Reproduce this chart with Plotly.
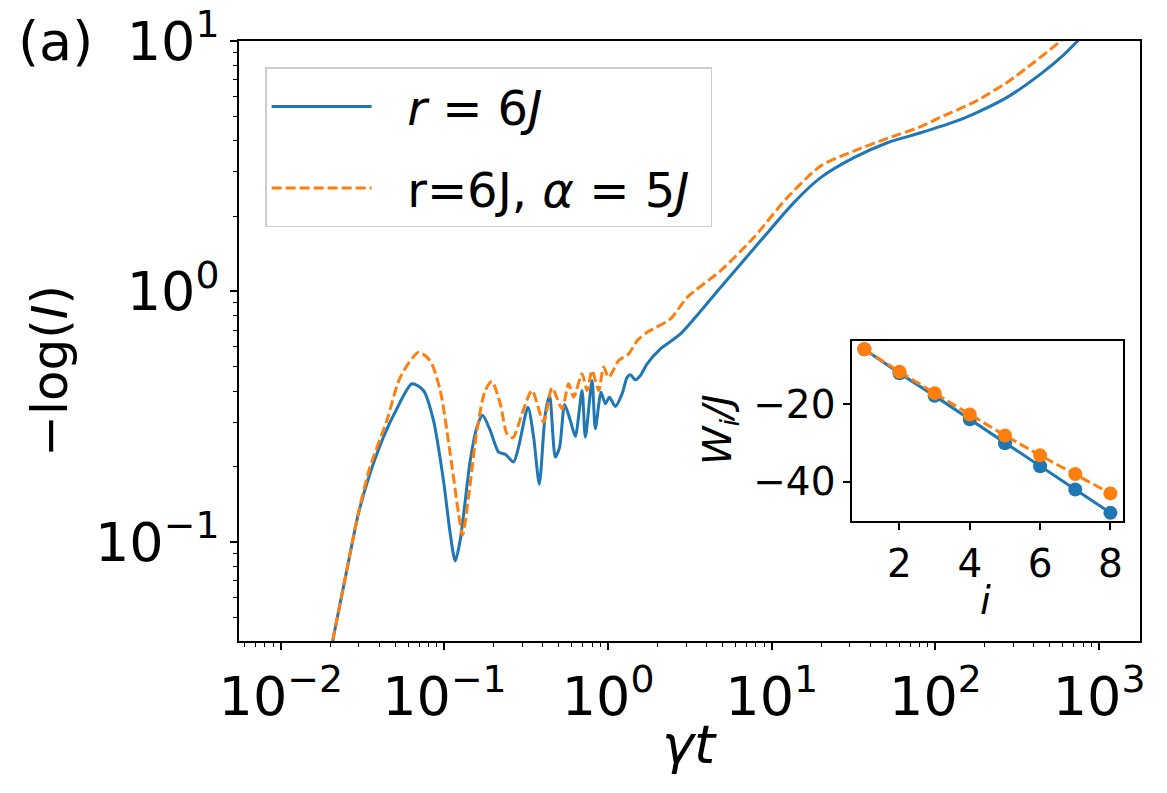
import plotly.graph_objects as go

# ---- main panel data: gamma*t and -log(I) ----
t_blue = [0.020, 0.02655, 0.02985, 0.0351, 0.0424, 0.0512, 0.0633, 0.0745, 0.0858, 0.0987,
          0.1085, 0.1164, 0.1249, 0.1439, 0.158, 0.171, 0.1905, 0.2142, 0.2355, 0.2646,
          0.2838, 0.324, 0.3508, 0.380, 0.4135, 0.4395, 0.476, 0.5058, 0.5428, 0.588,
          0.631, 0.6934, 0.7264, 0.798, 0.836, 0.906, 0.9627, 1.019, 1.108, 1.218,
          1.307, 1.369, 1.469, 1.576, 1.732, 2.089, 2.768, 4.863, 8.54, 13.65,
          19.89, 31.77, 50.85, 81.3, 130, 172.2, 275.7, 440.6, 607.5, 794, 1122]
v_blue = [0.0356, 0.0899, 0.1298, 0.1873, 0.262, 0.340, 0.428, 0.402, 0.305, 0.176,
          0.108, 0.0838, 0.1016, 0.2116, 0.287, 0.320, 0.2786, 0.2284, 0.2236, 0.2084,
          0.239, 0.345, 0.262, 0.170, 0.3248, 0.384, 0.218, 0.239, 0.3536, 0.305,
          0.2637, 0.402, 0.262, 0.4407, 0.283, 0.396, 0.356, 0.378, 0.347, 0.390,
          0.454, 0.4645, 0.4436, 0.4615, 0.514, 0.5895, 0.6764, 1.037, 1.592, 2.263,
          2.846, 3.42, 3.924, 4.30, 4.75, 5.12, 5.97, 7.39, 8.81, 10.5, 13.4]

t_orange = [0.020, 0.02655, 0.02985, 0.0351, 0.0445, 0.0537, 0.0694, 0.0818, 0.0943, 0.1085,
            0.122, 0.129, 0.1404, 0.158, 0.1776, 0.1952, 0.2194, 0.2411, 0.2624, 0.2979,
            0.3428, 0.4037, 0.4545, 0.5233, 0.574, 0.616, 0.6934, 0.744, 0.798, 0.876,
            0.940, 1.0085, 1.161, 1.337, 1.504, 1.732, 2.404, 3.042, 4.863, 7.773,
            12.44, 19.89, 31.77, 50.85, 81.3, 107.7, 172.2, 275.7, 401, 570, 800]
v_orange = [0.0356, 0.0899, 0.1310, 0.199, 0.305, 0.454, 0.571, 0.5296, 0.402, 0.225,
            0.1298, 0.1063, 0.151, 0.2786, 0.402, 0.4366, 0.356, 0.2703, 0.2606, 0.3248,
            0.402, 0.3008, 0.412, 0.340, 0.428, 0.378, 0.469, 0.402, 0.483, 0.402,
            0.498, 0.454, 0.5296, 0.563, 0.636, 0.6866, 0.776, 0.9464, 1.209, 1.642,
            2.369, 3.168, 3.636, 4.084, 4.55, 4.966, 5.70, 6.85, 8.23, 9.89, 12.1]

# ---- inset data: W_i / J ----
i_vals = [1, 2, 3, 4, 5, 6, 7, 8]
w_blue = [-5.9, -12.1, -17.9, -23.9, -30.1, -36.0, -42.0, -48.0]
w_orange = [-5.9, -11.7, -17.2, -22.7, -28.1, -33.2, -38.0, -43.0]

x_tickvals = [1e-2, 1e-1, 1e0, 1e1, 1e2, 1e3]
x_ticktext = ["10<sup>\u22122</sup>", "10<sup>\u22121</sup>", "10<sup>0</sup>",
              "10<sup>1</sup>", "10<sup>2</sup>", "10<sup>3</sup>"]
y_tickvals = [1e-1, 1e0, 1e1]
y_ticktext = ["10<sup>\u22121</sup>", "10<sup>0</sup>", "10<sup>1</sup>"]
inset_xticks = [2, 4, 6, 8]
inset_yticks = [-20, -40]
inset_yticktext = ["\u221220", "\u221240"]

BLUE = "#1f77b4"
ORANGE = "#ff7f0e"
FONT = "DejaVu Sans"
LW = 3

def minor_log(lo, hi):
    vals = []
    for e in range(lo, hi + 1):
        for k in range(2, 10):
            vals.append(k * 10 ** e)
    return vals

fig = go.Figure()
fig.add_trace(go.Scatter(x=t_blue, y=v_blue, mode="lines",
                         line=dict(color=BLUE, width=LW, shape="spline", smoothing=0.7),
                         name="&nbsp;&nbsp;<i>r</i> = 6<i>J</i>", legendgroup="a"))
fig.add_trace(go.Scatter(x=t_orange, y=v_orange, mode="lines",
                         line=dict(color=ORANGE, width=LW, dash="10px,4px",
                                   shape="spline", smoothing=0.7),
                         name="&nbsp;&nbsp;r=6J, <i>\u03b1</i> = 5<i>J</i>&nbsp;", legendgroup="b"))

fig.add_trace(go.Scatter(x=i_vals, y=w_blue, mode="lines+markers", xaxis="x2", yaxis="y2",
                         line=dict(color=BLUE, width=LW), marker=dict(color=BLUE, size=14),
                         showlegend=False))
fig.add_trace(go.Scatter(x=i_vals, y=w_orange, mode="lines+markers", xaxis="x2", yaxis="y2",
                         line=dict(color=ORANGE, width=LW, dash="10px,4px"),
                         marker=dict(color=ORANGE, size=14),
                         showlegend=False))

axis_common = dict(showline=True, linecolor="black", linewidth=1.5, mirror=True,
                   ticks="outside", tickcolor="black", tickwidth=1.5, ticklen=7,
                   showgrid=False, zeroline=False, automargin=False)

fig.update_layout(
    width=1167, height=793,
    margin=dict(l=239, r=27, t=41, b=152, autoexpand=False),
    paper_bgcolor="white", plot_bgcolor="white",
    font=dict(family=FONT, color="black"),
    xaxis=dict(type="log", range=[-2.255, 3.25], domain=[0, 1],
               tickmode="array", tickvals=x_tickvals, ticktext=x_ticktext,
               tickfont=dict(size=54, family=FONT),
               minor=dict(tickmode="array", tickvals=minor_log(-3, 3), ticks="outside",
                          ticklen=4, tickwidth=1.2, tickcolor="black", showgrid=False),
               **axis_common),
    yaxis=dict(type="log", range=[-1.396, 1.0], domain=[0, 1],
               tickmode="array", tickvals=y_tickvals, ticktext=y_ticktext,
               tickfont=dict(size=54, family=FONT),
               minor=dict(tickmode="array", tickvals=minor_log(-2, 1), ticks="outside",
                          ticklen=4, tickwidth=1.2, tickcolor="black", showgrid=False),
               **axis_common),
    xaxis2=dict(range=[0.65, 8.35], domain=[0.6804, 0.9808], anchor="y2",
                tickmode="array", tickvals=inset_xticks,
                tickfont=dict(size=39, family=FONT), **axis_common),
    yaxis2=dict(range=[-50.1, -3.78], domain=[0.2, 0.5], anchor="x2",
                tickmode="array", tickvals=inset_yticks, ticktext=inset_yticktext,
                tickfont=dict(size=39, family=FONT), **axis_common),
    legend=dict(x=0.029, y=0.956, xanchor="left", yanchor="top",
                bgcolor="white", bordercolor="#cccccc", borderwidth=1.5,
                font=dict(size=48, family=FONT), tracegroupgap=16, itemwidth=100),
    showlegend=True,
)

annotations = [
    dict(text="(a)", x=-0.2042, y=1.0, xref="paper", yref="paper",
         xanchor="center", yanchor="middle", showarrow=False, font=dict(size=54, family=FONT)),
    dict(text="\u2212log(<i>I</i>)", x=-0.21, y=0.45, xref="paper", yref="paper",
         xanchor="center", yanchor="middle", textangle=-90, showarrow=False,
         font=dict(size=50, family=FONT)),
    dict(text="<i>\u03b3t</i>", x=0.5, y=-0.173, xref="paper", yref="paper",
         xanchor="center", yanchor="middle", showarrow=False, font=dict(size=54, family=FONT)),
    dict(text="<i>W<sub>i</sub>/J</i>", x=(720 - 239) / 901, y=(641 - 430) / 600,
         xref="paper", yref="paper", xanchor="center", yanchor="middle", textangle=-90,
         showarrow=False, font=dict(size=39, family=FONT)),
    dict(text="<i>i</i>", x=(985 - 239) / 901, y=(641 - 600) / 600,
         xref="paper", yref="paper", xanchor="center", yanchor="middle",
         showarrow=False, font=dict(size=39, family=FONT)),
]
fig.update_layout(annotations=annotations)

fig.write_html("out.html")
